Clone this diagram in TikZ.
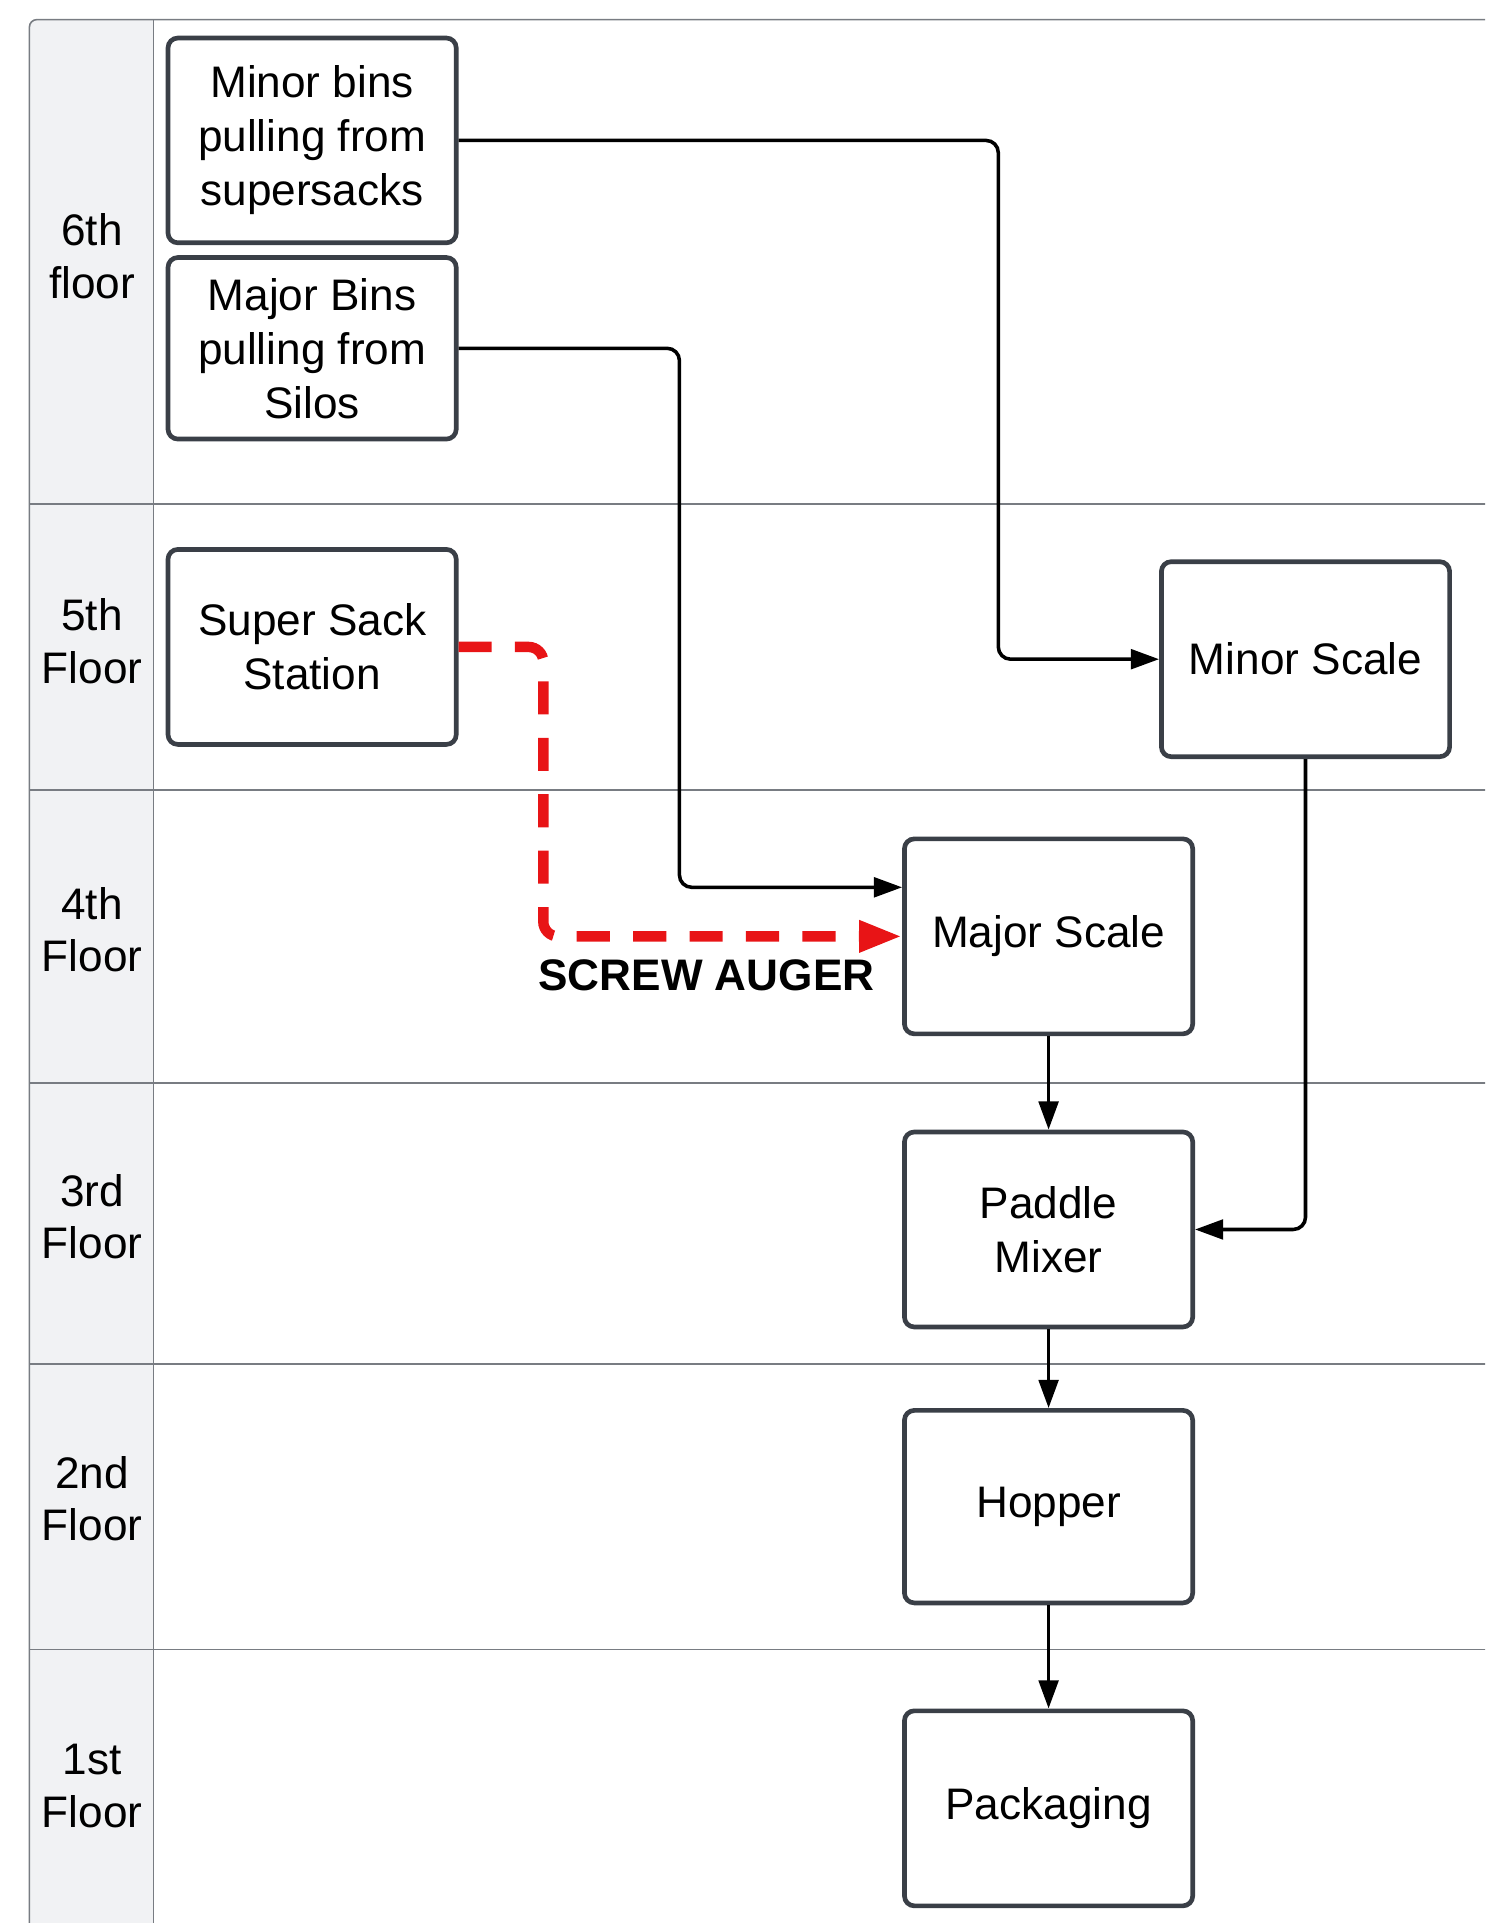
\documentclass[tikz,border=0pt]{standalone}
\usepackage{fontspec}
\setmainfont{Liberation Sans}
\usetikzlibrary{arrows.meta,calc}

\definecolor{boxline}{RGB}{58,63,71}
\definecolor{laneline}{RGB}{120,124,130}
\definecolor{lanefill}{RGB}{241,242,244}
\definecolor{augerred}{RGB}{232,20,22}

\begin{document}
\begin{tikzpicture}[x=1pt,y=-1pt,
  stage/.style={draw=boxline, line width=3.8pt, rounded corners=8pt, fill=white,
    minimum width=235pt, align=center, inner sep=0pt,
    font=\fontsize{36}{44}\selectfont},
  floorlabel/.style={align=center, font=\fontsize{36}{43}\selectfont},
  lane/.style={laneline, line width=1.3pt},
  flow/.style={line width=2.9pt, rounded corners=10pt, -{Triangle[length=23pt,width=16pt]}},
  screwpath/.style={augerred, line width=8.5pt, dash pattern=on 27pt off 19pt,
    rounded corners=12pt, -{Triangle[length=35pt,width=24pt]}}]
  \useasboundingbox (0,0) rectangle (1211,1568);
  \clip (0,0) rectangle (1211,1568);

  % swimlane frame
  \fill[lanefill] (24,1600) [rounded corners=6pt] -- (24,16) [sharp corners] -- (125,16) -- (125,1600) -- cycle;
  \draw[lane] (24,1600) [rounded corners=6pt] -- (24,16) [sharp corners] -- (1240,16);
  \draw[lane] (125,16) -- (125,1600);
  \foreach \y in {411,644,883,1112,1345}
    \draw[lane] (24,\y) -- (1240,\y);

  % floors
  \node[floorlabel] (floor6) at (75,209) {6th\\floor};
  \node[floorlabel] (floor5) at (75,523) {5th\\Floor};
  \node[floorlabel] (floor4) at (75,758) {4th\\Floor};
  \node[floorlabel] (floor3) at (75,992) {3rd\\Floor};
  \node[floorlabel] (floor2) at (75,1222) {2nd\\Floor};
  \node[floorlabel] (floor1) at (75,1456) {1st\\Floor};

  % stations
  \node[stage, minimum height=167pt] (minbins) at (254.5,114.5) {Minor bins\\pulling from\\supersacks};
  \node[stage, minimum height=148pt] (majbins) at (254.5,284) {Major Bins\\pulling from\\Silos};
  \node[stage, minimum height=159pt] (supersack) at (254.5,527.5) {Super Sack\\Station};
  \node[stage, minimum height=159pt] (minscale) at (1064.5,537.5) {Minor Scale};
  \node[stage, minimum height=159pt] (majscale) at (855,763.5) {Major Scale};
  \node[stage, minimum height=159pt] (mixer) at (855,1002.5) {Paddle\\Mixer};
  \node[stage, minimum height=157pt] (hopper) at (855,1228.5) {Hopper};
  \node[stage, minimum height=159pt] (packaging) at (855,1474.5) {Packaging};

  % bend columns
  \coordinate (minorbend) at (814,0);
  \coordinate (majorbend) at (554,0);
  \coordinate (augerbend) at (443,0);

  % flows
  \draw[flow] (minbins.east) -- (minbins.east -| minorbend) |- (minscale.west);
  \draw[flow] (majbins.east) -- (majbins.east -| majorbend) |- ($(majscale.west)+(0,-40)$);
  \draw[screwpath] (supersack.east) -- (supersack.east -| augerbend) |- (majscale.west);
  \node[font=\fontsize{36}{43}\selectfont\bfseries] (augerlabel) at (576,795) {SCREW AUGER};
  \draw[flow] (minscale.south) |- (mixer.east);
  \draw[flow] (majscale.south) -- (mixer.north);
  \draw[flow] (mixer.south) -- (hopper.north);
  \draw[flow] (hopper.south) -- (packaging.north);
\end{tikzpicture}
\end{document}
